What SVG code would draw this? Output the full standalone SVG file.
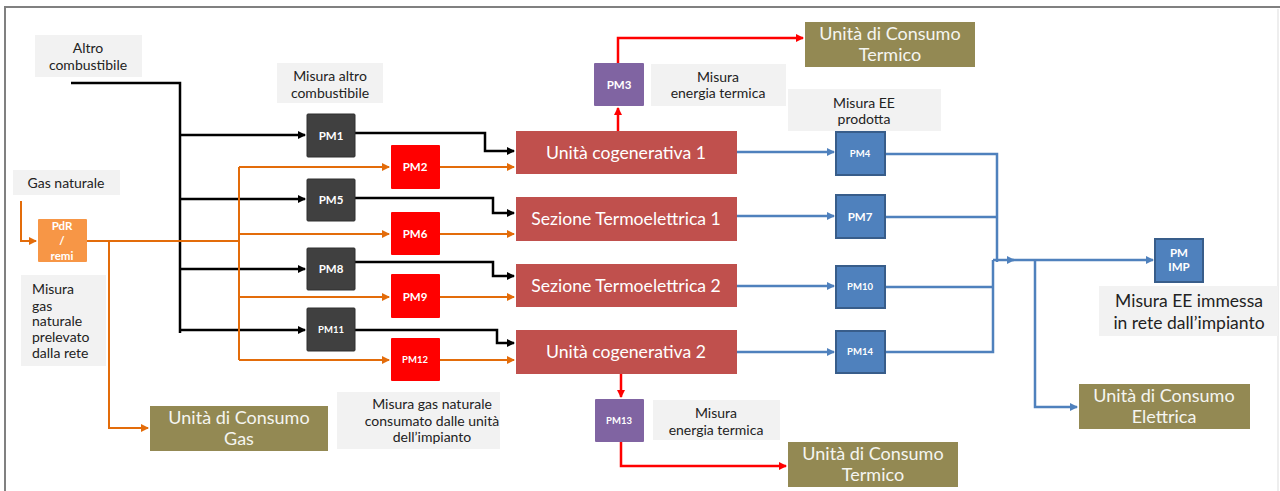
<svg xmlns="http://www.w3.org/2000/svg" width="1280" height="491" viewBox="0 0 1280 491">
<style>
.lbl{fill:#f2f2f2}
.lt{font-family:Lato,"Liberation Sans",sans-serif;font-size:14px;fill:#222;text-anchor:middle}
.olive{fill:#938953}
.ot{font-family:Lato,"Liberation Sans",sans-serif;font-size:18px;fill:#f5f5f0;text-anchor:middle}
.big{fill:#c0504d}
.bt{font-family:Lato,"Liberation Sans",sans-serif;font-size:17.6px;fill:#fff;text-anchor:middle}
.pmd{fill:#404040;stroke:#2e2e2e;stroke-width:1}
.pmr{fill:#ff0000}
.pmb{fill:#4f81bd;stroke:#385d8a;stroke-width:2}
.pmp{fill:#8064a2}
.pmo{fill:#f79646}
.pt{font-family:Lato,"Liberation Sans",sans-serif;font-size:11.5px;font-weight:bold;fill:#fff;text-anchor:middle}
.ps{font-size:9.5px}
.k{fill:none;stroke:#000;stroke-width:2.5}
.o{fill:none;stroke:#e36c0a;stroke-width:2}
.r{fill:none;stroke:#ff0000;stroke-width:2.5}
.b{fill:none;stroke:#4f81bd;stroke-width:2.5}
</style>
<defs>
<marker id="ak" markerWidth="8" markerHeight="8" refX="7" refY="4" orient="auto" markerUnits="userSpaceOnUse"><path d="M0,0 L8,4 L0,8 z" fill="#000"/></marker>
<marker id="ao" markerWidth="8" markerHeight="8" refX="7" refY="4" orient="auto" markerUnits="userSpaceOnUse"><path d="M0,0 L8,4 L0,8 z" fill="#e36c0a"/></marker>
<marker id="ar" markerWidth="8" markerHeight="8" refX="7" refY="4" orient="auto" markerUnits="userSpaceOnUse"><path d="M0,0 L8,4 L0,8 z" fill="#ff0000"/></marker>
<marker id="ab" markerWidth="8" markerHeight="8" refX="7" refY="4" orient="auto" markerUnits="userSpaceOnUse"><path d="M0,0 L8,4 L0,8 z" fill="#4f81bd"/></marker>
</defs>
<rect x="0" y="0" width="1280" height="491" fill="#fff"/>
<path d="M5,491 V7 H1280" fill="none" stroke="#808080" stroke-width="2"/>
<line x1="1278" y1="9" x2="1278" y2="491" stroke="#eeeeee" stroke-width="2"/>

<g id="connectors">
<path class="k" d="M71,83 H180 V333"/>
<path class="k" d="M180,135 H305" marker-end="url(#ak)"/>
<path class="k" d="M180,199 H305" marker-end="url(#ak)"/>
<path class="k" d="M180,269 H305" marker-end="url(#ak)"/>
<path class="k" d="M180,330 H305" marker-end="url(#ak)"/>
<path class="k" d="M355,133 H485 V151 H514" marker-end="url(#ak)"/>
<path class="k" d="M355,198 H493 V213 H514" marker-end="url(#ak)"/>
<path class="k" d="M355,262 H493 V276 H514" marker-end="url(#ak)"/>
<path class="k" d="M355,330 H497 V343 H514" marker-end="url(#ak)"/>
<path class="o" d="M21,201 V241 H36" marker-end="url(#ao)"/>
<path class="o" d="M87,241 H239"/>
<path class="o" d="M239,167 V360"/>
<path class="o" d="M239,167 H389" marker-end="url(#ao)"/>
<path class="o" d="M239,234 H389" marker-end="url(#ao)"/>
<path class="o" d="M239,297 H389" marker-end="url(#ao)"/>
<path class="o" d="M239,360 H389" marker-end="url(#ao)"/>
<path class="o" d="M440,167 H514" marker-end="url(#ao)"/>
<path class="o" d="M440,234 H514" marker-end="url(#ao)"/>
<path class="o" d="M440,297 H514" marker-end="url(#ao)"/>
<path class="o" d="M440,360 H514" marker-end="url(#ao)"/>
<path class="o" d="M109,241 V428 H148" marker-end="url(#ao)"/>
<path class="r" d="M618,131 V108" marker-end="url(#ar)"/>
<path class="r" d="M618,63 V38 H803" marker-end="url(#ar)"/>
<path class="r" d="M621,374 V397" marker-end="url(#ar)"/>
<path class="r" d="M621,442 V466 H786" marker-end="url(#ar)"/>
<path class="b" d="M737,152 H834" marker-end="url(#ab)"/>
<path class="b" d="M737,216 H834" marker-end="url(#ab)"/>
<path class="b" d="M737,286 H834" marker-end="url(#ab)"/>
<path class="b" d="M737,352 H834" marker-end="url(#ab)"/>
<path class="b" d="M885,154 H997 V262"/>
<path class="b" d="M885,217 H997"/>
<path class="b" d="M885,287 H993"/>
<path class="b" d="M885,352 H993 V260"/>
<path class="b" d="M993,260 H1014" marker-end="url(#ab)"/>
<path class="b" d="M1012,260 H1153" marker-end="url(#ab)"/>
<path class="b" d="M1035,260 V407 H1077" marker-end="url(#ab)"/>
</g>

<g id="lbl-altro"><rect class="lbl" x="35" y="35" width="107" height="42"/>
<text class="lt" x="88" y="53">Altro</text><text class="lt" x="88" y="70">combustibile</text></g>
<g id="lbl-gas"><rect class="lbl" x="13" y="170" width="107" height="25"/>
<text class="lt" x="66" y="188">Gas naturale</text></g>
<g id="lbl-prelevato"><rect class="lbl" x="21" y="275" width="85" height="91"/>
<text class="lt" x="32" y="294" style="text-anchor:start">Misura</text>
<text class="lt" x="32" y="311" style="text-anchor:start">gas</text>
<text class="lt" x="32" y="326" style="text-anchor:start">naturale</text>
<text class="lt" x="32" y="342" style="text-anchor:start">prelevato</text>
<text class="lt" x="32" y="358" style="text-anchor:start">dalla rete</text></g>
<g id="lbl-misura-altro"><rect class="lbl" x="277" y="63" width="106" height="40"/>
<text class="lt" x="330" y="81">Misura altro</text><text class="lt" x="330" y="98">combustibile</text></g>
<g id="lbl-term1"><rect class="lbl" x="651" y="64" width="135" height="42"/>
<text class="lt" x="718" y="82">Misura</text><text class="lt" x="718" y="98">energia termica</text></g>
<g id="lbl-ee"><rect class="lbl" x="788" y="89" width="153" height="42"/>
<text class="lt" x="864" y="108">Misura EE</text><text class="lt" x="864" y="124">prodotta</text></g>
<g id="lbl-consumato"><rect class="lbl" x="337" y="392" width="163" height="57"/>
<text class="lt" x="432" y="409">Misura gas naturale</text>
<text class="lt" x="432" y="426">consumato dalle unità</text>
<text class="lt" x="432" y="442">dell’impianto</text></g>
<g id="lbl-term2"><rect class="lbl" x="653" y="400" width="127" height="40"/>
<text class="lt" x="716" y="418">Misura</text><text class="lt" x="716" y="435">energia termica</text></g>
<g id="lbl-immessa"><rect class="lbl" x="1099" y="286" width="179" height="50"/>
<text class="lt" x="1189" y="307" style="font-size:17.5px">Misura EE immessa</text>
<text class="lt" x="1189" y="329" style="font-size:17.5px">in rete dall’impianto</text></g>

<g id="uc-termico-1"><rect class="olive" x="805" y="22" width="170" height="45"/>
<text class="ot" x="890" y="40">Unità di Consumo</text><text class="ot" x="890" y="61">Termico</text></g>
<g id="uc-gas"><rect class="olive" x="150" y="406" width="178" height="45"/>
<text class="ot" x="239" y="424">Unità di Consumo</text><text class="ot" x="239" y="445">Gas</text></g>
<g id="uc-termico-2"><rect class="olive" x="788" y="442" width="170" height="45"/>
<text class="ot" x="873" y="460">Unità di Consumo</text><text class="ot" x="873" y="481">Termico</text></g>
<g id="uc-elettrica"><rect class="olive" x="1079" y="384" width="171" height="45"/>
<text class="ot" x="1164" y="402">Unità di Consumo</text><text class="ot" x="1164" y="423">Elettrica</text></g>

<g id="cog1"><rect class="big" x="516" y="131" width="221" height="43"/><text class="bt" x="626" y="159">Unità cogenerativa 1</text></g>
<g id="sez1"><rect class="big" x="516" y="197" width="221" height="44"/><text class="bt" x="626" y="225">Sezione Termoelettrica 1</text></g>
<g id="sez2"><rect class="big" x="516" y="264" width="221" height="43"/><text class="bt" x="626" y="292">Sezione Termoelettrica 2</text></g>
<g id="cog2"><rect class="big" x="516" y="330" width="221" height="44"/><text class="bt" x="626" y="358">Unità cogenerativa 2</text></g>

<g id="pdr"><rect class="pmo" x="38" y="219" width="49" height="43" rx="1"/>
<text class="pt" x="62" y="230">PdR</text><text class="pt" x="62" y="245">/</text><text class="pt" x="62" y="260">remi</text></g>

<g id="pm1"><rect class="pmd" x="307" y="114" width="48" height="43" rx="1"/><text class="pt" x="331" y="140">PM1</text></g>
<g id="pm5"><rect class="pmd" x="307" y="179" width="48" height="42" rx="1"/><text class="pt" x="331" y="204">PM5</text></g>
<g id="pm8"><rect class="pmd" x="307" y="248" width="48" height="42" rx="1"/><text class="pt" x="331" y="273">PM8</text></g>
<g id="pm11"><rect class="pmd" x="307" y="308" width="48" height="43" rx="1"/><text class="pt ps" x="331" y="333">PM11</text></g>

<g id="pm2"><rect class="pmr" x="391" y="145" width="49" height="44" rx="1"/><text class="pt" x="415" y="171">PM2</text></g>
<g id="pm6"><rect class="pmr" x="391" y="212" width="49" height="43" rx="1"/><text class="pt" x="415" y="238">PM6</text></g>
<g id="pm9"><rect class="pmr" x="391" y="274" width="49" height="44" rx="1"/><text class="pt" x="415" y="301">PM9</text></g>
<g id="pm12"><rect class="pmr" x="391" y="338" width="49" height="43" rx="1"/><text class="pt ps" x="415" y="363">PM12</text></g>

<g id="pm3"><rect class="pmp" x="594" y="63" width="50" height="43" rx="1"/><text class="pt" x="619" y="89">PM3</text></g>
<g id="pm13"><rect class="pmp" x="595" y="399" width="49" height="43" rx="1"/><text class="pt ps" x="619" y="424">PM13</text></g>

<g id="pm4"><rect class="pmb" x="836" y="132" width="49" height="43"/><text class="pt ps" x="860" y="157">PM4</text></g>
<g id="pm7"><rect class="pmb" x="836" y="195" width="49" height="43"/><text class="pt" x="860" y="221">PM7</text></g>
<g id="pm10"><rect class="pmb" x="836" y="266" width="49" height="42"/><text class="pt ps" x="860" y="290">PM10</text></g>
<g id="pm14"><rect class="pmb" x="836" y="331" width="49" height="42"/><text class="pt ps" x="860" y="355">PM14</text></g>
<g id="pmimp"><rect class="pmb" x="1155" y="239" width="48" height="43"/>
<text class="pt" x="1179" y="257">PM</text><text class="pt" x="1179" y="271">IMP</text></g>
</svg>
